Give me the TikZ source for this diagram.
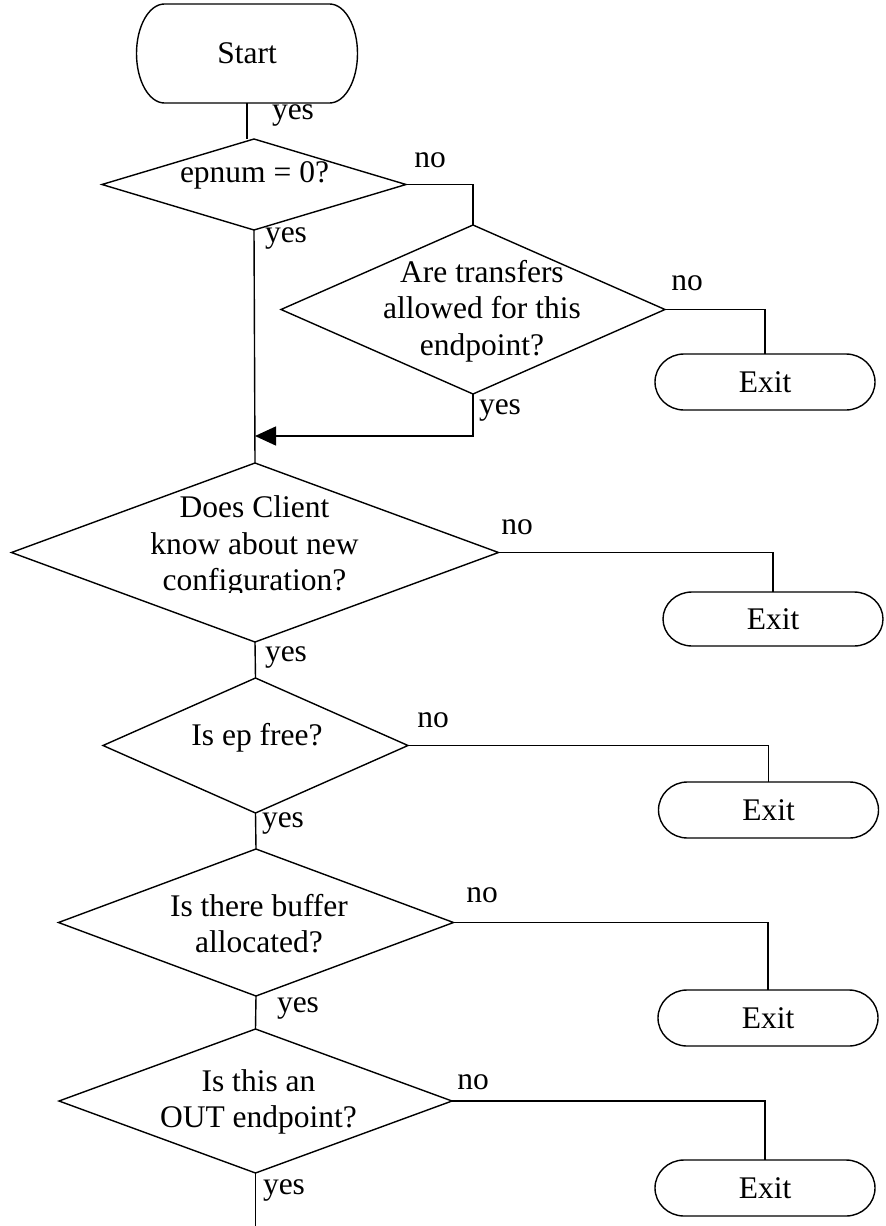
\documentclass[tikz,border=0pt]{standalone}
\usepackage{fontspec}
\setmainfont{Liberation Serif}
\usetikzlibrary{shapes.geometric,arrows.meta}

% Outline of a terminal box: flat top and bottom, elliptical ends.
% #1 node name, #2 horizontal radius of the ends, #3 half height
\newcommand\terminalpath[3]{%
  \draw ([xshift=#2]#1.north west) -- ([xshift=-#2]#1.north east)
    arc[start angle=90,end angle=-90,x radius=#2,y radius=#3]
    -- ([xshift=#2]#1.south west)
    arc[start angle=270,end angle=90,x radius=#2,y radius=#3] -- cycle;}

\begin{document}
\begin{tikzpicture}[x=1pt,y=-1pt,line width=1.4pt,
  every node/.style={font=\fontsize{31.5}{36.5}\selectfont, inner sep=0pt, outer sep=0pt},
  decision/.style={shape=diamond, draw},
  terminal/.style={shape=rectangle, minimum width=220, minimum height=56},
  question/.style={align=center},
  answer/.style={},
  merge/.style={-{Triangle[length=21pt,width=19pt]}}]
\useasboundingbox (0,0) rectangle (886,1226);

% ---- terminals
\node[terminal, minimum width=221, minimum height=99] (start) at (247,53.5) {Start};
\terminalpath{start}{28pt}{49.5pt}

\node[terminal] (e1) at (765,382) {Exit};
\node[terminal, minimum height=54] (e2) at (773,619) {Exit};
\node[terminal] (e3) at (768.5,810) {Exit};
\node[terminal] (e4) at (768,1018) {Exit};
\node[terminal] (e5) at (765,1188) {Exit};
\terminalpath{e1}{29pt}{28pt}
\terminalpath{e2}{29pt}{27pt}
\terminalpath{e3}{29pt}{28pt}
\terminalpath{e4}{29pt}{28pt}
\terminalpath{e5}{29pt}{28pt}

% ---- decisions
\node[decision, minimum width=304, minimum height=91] (d1) at (254,184.5) {};
\node[decision, minimum width=384, minimum height=169] (d2) at (473,309.5) {};
\node[decision, minimum width=487, minimum height=179] (d3) at (255,552.5) {};
\node[decision, minimum width=305, minimum height=135] (d4) at (255.5,745.5) {};
\node[decision, minimum width=395, minimum height=147] (d5) at (256,922.5) {};
\node[decision, minimum width=393, minimum height=144] (d6) at (255.5,1101) {};

% ---- questions
\node[question] (q1) at (254.5,175) {epnum = 0?};
\node[question] (q2) at (482,311) {Are transfers\\allowed for this\\endpoint?};
\begin{scope}
  \clip (d3.west |- d3.north) rectangle ([yshift=-39.5pt]d3.east);
  \node[question] (q3) at (254.5,546.5) {Does Client\\know about new\\configuration?};
\end{scope}
\node[question] (q4) at (257,737.5) {Is ep free?};
\node[question] (q5) at (259,923.5) {Is there buffer\\allocated?};
\node[question] (q6) at (258.5,1102) {Is this an\\OUT endpoint?};

% ---- connectors
\coordinate (join) at (255,436);
\coordinate (bottom) at (255.5,1226);

\draw (start.south) -- (start.south |- d1.north);
\draw (d1.south) -- (d3.north);
\draw (d1.east) -| (d2.north);
\draw (d2.east) -| (e1.north);
\draw[merge] (d2.south) |- (join);
\draw (d3.east) -| (e2.north);
\draw (d3.south) -- (d4.north);
\draw (d4.east) -| (e3.north);
\draw (d4.south) -- (d5.north);
\draw (d5.east) -| (e4.north);
\draw (d5.south) -- (d6.north);
\draw (d6.east) -| (e5.north);
\draw (d6.south) -- (bottom);

% ---- branch labels
\node[answer] (a0) at (293,115) {yes};
\node[answer] (n1) at (430,160.5) {no};
\node[answer] (y1) at (286,238) {yes};
\node[answer] (n2) at (687,283) {no};
\node[answer] (y2) at (500,410) {yes};
\node[answer] (n3) at (517,527) {no};
\node[answer] (y3) at (286,657) {yes};
\node[answer] (n4) at (433,720) {no};
\node[answer] (y4) at (283,823) {yes};
\node[answer] (n5) at (482,895) {no};
\node[answer] (y5) at (298,1008) {yes};
\node[answer] (n6) at (473,1082) {no};
\node[answer] (y6) at (284,1190) {yes};
\end{tikzpicture}
\end{document}
